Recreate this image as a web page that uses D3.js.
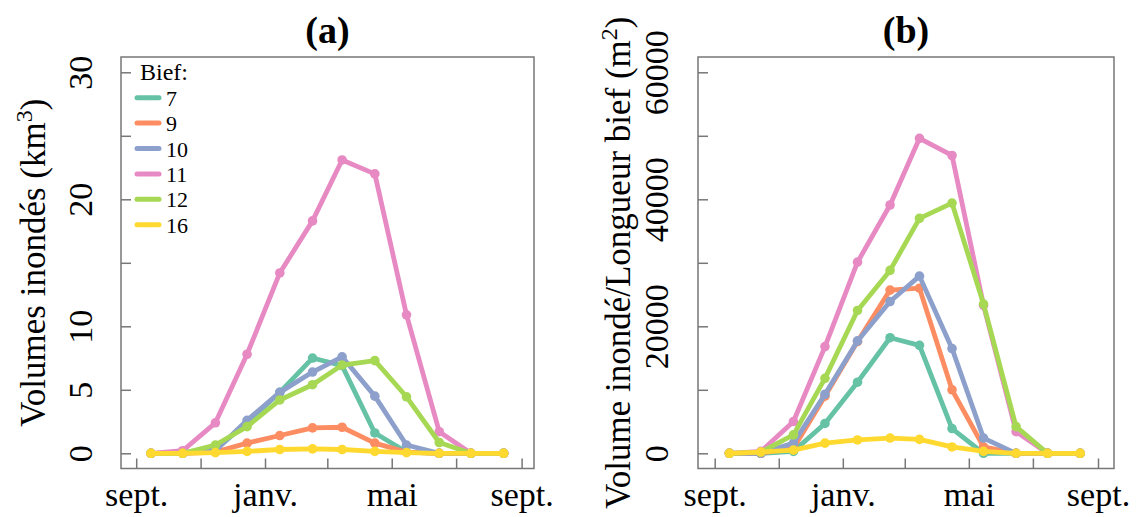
<!DOCTYPE html>
<html>
<head>
<meta charset="utf-8">
<script src="https://cdn.jsdelivr.net/npm/d3@7"></script>
<style>
  html, body { margin: 0; padding: 0; background: #fff; }
  text { font-family: "Liberation Serif", "Times New Roman", serif; fill: #000; }
</style>
</head>
<body>
<svg id="chart" width="1140" height="517"></svg>
<script>
// ---- data ----
const months = ["2000-09-15","2000-10-15","2000-11-15","2000-12-15","2001-01-15","2001-02-15",
                "2001-03-15","2001-04-15","2001-05-15","2001-06-15","2001-07-15","2001-08-15"];
const biefs = ["7", "9", "10", "11", "12", "16"];
const colors = ["#66C2A5", "#FC8D62", "#8DA0CB", "#E78AC3", "#A6D854", "#FFD92F"];

// (a) Volumes inondés (km3)
const volA7  = [0, 0, 0.3, 2.4, 4.8, 7.5, 6.9, 1.6, 0.1, 0, 0, 0];
const volA9  = [0, 0, 0.1, 0.8, 1.4, 2.0, 2.05, 0.8, 0.1, 0, 0, 0];
const volA10 = [0, 0, 0.2, 2.6, 4.8, 6.4, 7.6, 4.5, 0.65, 0, 0, 0];
const volA11 = [0, 0.2, 2.4, 7.8, 14.2, 18.3, 23.1, 22.0, 10.9, 1.7, 0, 0];
const volA12 = [0, 0, 0.65, 2.1, 4.2, 5.4, 6.95, 7.3, 4.45, 0.85, 0, 0];
const volA16 = [0, 0, 0.05, 0.15, 0.3, 0.35, 0.3, 0.15, 0.05, 0, 0, 0];

// (b) Volume inondé / Longueur bief (m2)
const volB7  = [0, 0, 300, 4700, 11200, 18200, 17000, 3900, 0, 0, 0, 0];
const volB9  = [0, 0, 800, 9000, 17600, 25700, 26000, 10000, 1000, 0, 0, 0];
const volB10 = [0, 0, 1600, 9300, 17700, 23900, 27900, 16500, 2400, 0, 0, 0];
const volB11 = [0, 300, 5000, 16800, 30100, 39100, 49600, 46900, 23300, 3400, 0, 0];
const volB12 = [0, 200, 2900, 11800, 22500, 28800, 37000, 39400, 23500, 4200, 0, 0];
const volB16 = [0, 200, 500, 1600, 2100, 2400, 2200, 1000, 300, 0, 0, 0];

const xTickDates = ["2000-09-01","2000-11-01","2001-01-01","2001-03-01","2001-05-01","2001-07-01","2001-09-01"];
const xTickLabels = ["sept.", "", "janv.", "", "mai", "", "sept."];

const yTicksA = [0, 5, 10, 15, 20, 25, 30];
const yLabelsA = ["0", "5", "10", "", "20", "", "30"];
const yTicksB = [0, 10000, 20000, 30000, 40000, 50000, 60000];
const yLabelsB = ["0", "", "20000", "", "40000", "", "60000"];

// ---- drawing ----
const svg = d3.select("#chart");
const parse = d3.timeParse("%Y-%m-%d");
const dates = months.map(parse);
const tickDates = xTickDates.map(parse);

function panel(cfg) {
  const g = svg.append("g");
  const x = d3.scaleTime().domain([tickDates[0], tickDates[tickDates.length - 1]]).range(cfg.xr);
  const y = d3.scaleLinear().domain([0, cfg.yMax]).range(cfg.yr);

  // frame
  g.append("rect")
    .attr("x", cfg.box[0]).attr("y", cfg.box[1])
    .attr("width", cfg.box[2] - cfg.box[0]).attr("height", cfg.box[3] - cfg.box[1])
    .attr("fill", "none").attr("stroke", "#777").attr("stroke-width", 1.5);

  // x axis ticks (inward)
  const xa = g.append("g").attr("transform", `translate(0,${cfg.box[3]})`)
    .call(d3.axisBottom(x).tickValues(tickDates).tickSizeInner(-10).tickSizeOuter(0).tickFormat((d, i) => xTickLabels[i]));
  xa.select(".domain").remove();
  xa.selectAll(".tick line").attr("stroke", "#777").attr("stroke-width", 1.5);
  xa.selectAll(".tick text").attr("y", 0).attr("dy", 0)
    .attr("transform", `translate(0,${cfg.xLabelBase - cfg.box[3]})`)
    .style("font-size", "34px").style("font-family", "Liberation Serif");

  // y axis ticks (inward)
  const ya = g.append("g").attr("transform", `translate(${cfg.box[0]},0)`)
    .call(d3.axisLeft(y).tickValues(cfg.yTicks).tickSizeInner(-10).tickSizeOuter(0).tickFormat((d, i) => cfg.yLabels[i]));
  ya.select(".domain").remove();
  ya.selectAll(".tick line").attr("stroke", "#777").attr("stroke-width", 1.5);
  ya.selectAll(".tick text")
    .attr("x", 0).attr("dy", 0).attr("y", 0)
    .attr("text-anchor", "middle")
    .attr("transform", `translate(${cfg.yLabelBase - cfg.box[0]},0) rotate(-90)`)
    .style("font-size", "34px").style("font-family", "Liberation Serif");

  // series
  const line = d3.line().x((d, i) => x(dates[i])).y(d => y(d));
  cfg.series.forEach((vals, k) => {
    g.append("path").datum(vals)
      .attr("d", line).attr("fill", "none")
      .attr("stroke", colors[k]).attr("stroke-width", 4.8)
      .attr("stroke-linejoin", "round").attr("stroke-linecap", "round");
    g.selectAll(null).data(vals).enter().append("circle")
      .attr("cx", (d, i) => x(dates[i])).attr("cy", d => y(d))
      .attr("r", 4.8).attr("fill", colors[k]);
  });

  // panel title
  g.append("text")
    .attr("x", (cfg.box[0] + cfg.box[2]) / 2).attr("y", 43)
    .attr("text-anchor", "middle")
    .style("font-size", "38px").style("font-weight", "bold")
    .text(cfg.title);

  // y axis title
  const cy = (cfg.box[1] + cfg.box[3]) / 2;
  const t = g.append("text")
    .attr("transform", `translate(${cfg.yTitleBase},${cy}) rotate(-90)`)
    .attr("text-anchor", "middle")
    .style("font-size", "35px");
  t.append("tspan").text(cfg.yTitle[0]);
  t.append("tspan").attr("dy", -13).style("font-size", "24px").text(cfg.yTitle[1]);
  t.append("tspan").attr("dy", 13).text(cfg.yTitle[2]);

  return g;
}

panel({
  box: [121, 57, 534, 468.5],
  xr: [136.2, 521.6],
  yr: [453.3, 72.3],
  yMax: 30,
  yTicks: yTicksA, yLabels: yLabelsA,
  xLabelBase: 506, yLabelBase: 92, yTitleBase: 45,
  title: "(a)",
  yTitle: ["Volumes inondés (km", "3", ")"],
  series: [volA7, volA9, volA10, volA11, volA12, volA16]
});

panel({
  box: [698, 57, 1114, 468.5],
  xr: [714.7, 1098],
  yr: [453.3, 72.3],
  yMax: 60000,
  yTicks: yTicksB, yLabels: yLabelsB,
  xLabelBase: 506, yLabelBase: 668, yTitleBase: 630,
  title: "(b)",
  yTitle: ["Volume inondé/Longueur bief (m", "2", ")"],
  series: [volB7, volB9, volB10, volB11, volB12, volB16]
});

// legend in panel (a)
const leg = svg.append("g");
leg.append("text").attr("x", 140).attr("y", 80).style("font-size", "24px").text("Bief:");
const rows = leg.selectAll("g.row").data(biefs).enter().append("g")
  .attr("transform", (d, i) => `translate(0,${97.7 + i * 25.4})`);
rows.append("line").attr("x1", 137).attr("x2", 159).attr("y1", 0).attr("y2", 0)
  .attr("stroke", (d, i) => colors[i]).attr("stroke-width", 5).attr("stroke-linecap", "round");
rows.append("text").attr("x", 166).attr("y", 8).style("font-size", "22px").text(d => d);
</script>
</body>
</html>
